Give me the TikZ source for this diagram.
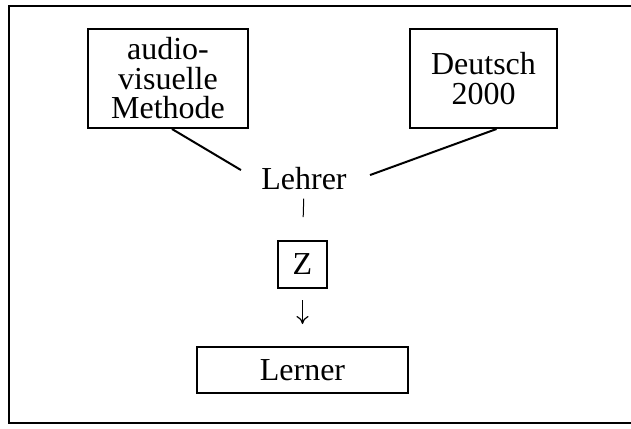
\documentclass[tikz,border=0pt]{standalone}
\usepackage{fontspec}
\setmainfont{Liberation Serif}
\usepackage{tikz}
\usetikzlibrary{calc,arrows.meta}

\begin{document}
\begin{tikzpicture}[x=0.5pt,y=-0.5pt,
        every node/.style={font=\fontsize{16}{14.75}\selectfont, inner sep=0pt, align=center},
        kasten/.style={draw, line width=1pt},
        linie/.style={line width=1pt}]
            \useasboundingbox (0,0) rectangle (631,428);
            \draw[line width=1pt] (634,6)--(9,6)--(9,423)--(634,423);
            \node[kasten, minimum width=80pt, minimum height=49.5pt] (avm) at (168,78.5) {audio-\\visuelle\\Methode};
            \node[kasten, minimum width=73.5pt, minimum height=49.5pt] (deutsch) at (483.5,78.5) {Deutsch\\2000};
            \node[anchor=base] (lehrer) at (304,189) {Lehrer};
            \node[kasten, minimum width=24.5pt, minimum height=23.5pt] (z) at (302.5,264.5) {Z};
            \node[kasten, minimum width=105.5pt, minimum height=23pt] (lerner) at (302.5,370) {Lerner};
            \draw[linie] ([xshift=2pt]avm.south)--([xshift=-10pt,yshift=4pt]lehrer.west);
            \draw[linie] ([xshift=6.5pt]deutsch.south)--([xshift=11.5pt,yshift=1.5pt]lehrer.east);
            \draw[line width=0.5pt, shorten <=4.5pt, shorten >=11.5pt] (lehrer.south)--(z.north);
            \draw[line width=0.6pt, shorten <=5.5pt, shorten >=11pt, -{To[length=4pt,width=6pt]}] (z.south)--(lerner.north);
        \end{tikzpicture}
\end{document}
